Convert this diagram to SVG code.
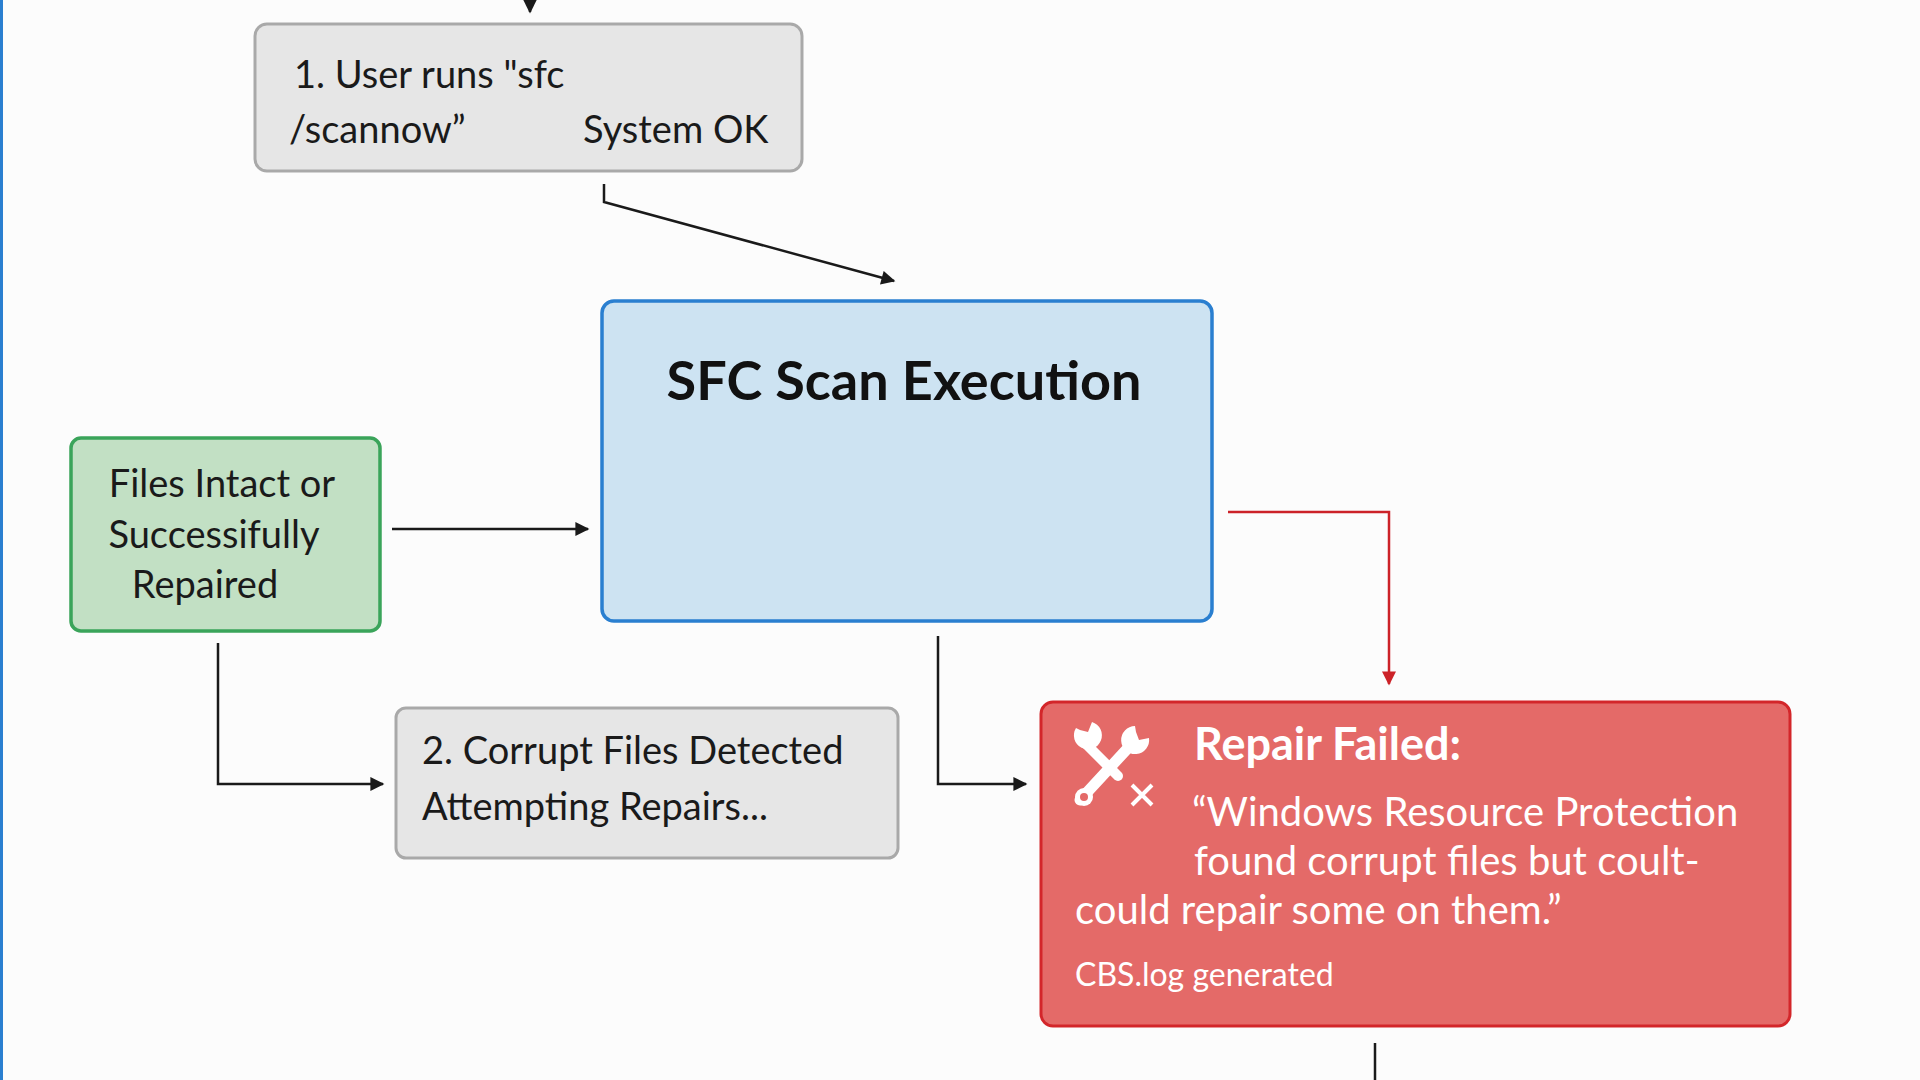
<svg xmlns="http://www.w3.org/2000/svg" width="1920" height="1080" viewBox="0 0 1920 1080">
<defs>
<marker id="ah" viewBox="0 0 10 10" refX="9" refY="5" markerWidth="16" markerHeight="14" orient="auto" markerUnits="userSpaceOnUse"><path d="M0,0 L10,5 L0,10 z" fill="#1a1a1a"/></marker>
<marker id="ahr" viewBox="0 0 10 10" refX="9" refY="5" markerWidth="16" markerHeight="14" orient="auto" markerUnits="userSpaceOnUse"><path d="M0,0 L10,5 L0,10 z" fill="#cc2228"/></marker>
</defs>
<style>
text{font-family:Lato,"Open Sans",sans-serif}
.t{font-size:38px;fill:#1a1a1a}
.w{fill:#fff}
.c{fill:none;stroke:#1a1a1a;stroke-width:2.5}
</style>
<rect width="1920" height="1080" fill="#fcfcfc"/>
<rect x="0" y="0" width="3" height="1080" fill="#2a7fd0"/>
<g id="connectors">
<path class="c" d="M530,0 V12" marker-end="url(#ah)"/>
<path class="c" d="M604,184 V202 L894,281" marker-end="url(#ah)"/>
<path class="c" d="M392,529 H588" marker-end="url(#ah)"/>
<path class="c" d="M218,643 V784 H383" marker-end="url(#ah)"/>
<path class="c" d="M938,636 V784 H1026" marker-end="url(#ah)"/>
<path fill="none" stroke="#cc2228" stroke-width="2.5" d="M1228,512 H1389 V684" marker-end="url(#ahr)"/>
<path class="c" d="M1375,1043 V1080"/>
</g>
<g id="n1">
<rect x="255" y="24" width="547" height="147" rx="12" fill="#e6e6e6" stroke="#a9a9a9" stroke-width="3"/>
<text class="t" x="294" y="88">1. User runs "sfc</text>
<text class="t" x="289" y="143">/scannow”</text>
<text class="t" x="583" y="143">System OK</text>
</g>
<g id="scan">
<rect x="602" y="301" width="610" height="320" rx="12" fill="#cde3f2" stroke="#2a7fd0" stroke-width="3.5"/>
<text x="904" y="400" text-anchor="middle" font-size="54" font-weight="bold" fill="#111">SFC Scan Execution</text>
</g>
<g id="ok">
<rect x="71" y="438" width="309" height="193" rx="10" fill="#c2e0c4" stroke="#3aa45a" stroke-width="3.5"/>
<text class="t" x="222" y="497" text-anchor="middle">Files Intact or</text>
<text class="t" x="214" y="548" text-anchor="middle">Successifully</text>
<text class="t" x="205" y="598" text-anchor="middle">Repaired</text>
</g>
<g id="n2">
<rect x="396" y="708" width="502" height="150" rx="10" fill="#e6e6e6" stroke="#a9a9a9" stroke-width="3"/>
<text class="t" x="422" y="764">2. Corrupt Files Detected</text>
<text class="t" x="422" y="820">Attempting Repairs...</text>
</g>
<g id="fail">
<rect x="1041" y="702" width="749" height="324" rx="12" fill="#e46a68" stroke="#d3262a" stroke-width="3"/>
<g fill="#fff" stroke="#fff">
<path d="M1080,800 L1128,748" stroke-width="11" stroke-linecap="round"/>
<circle cx="1084" cy="797" r="9" stroke="none"/>
<circle cx="1084" cy="797" r="4" fill="#e46a68" stroke="none"/>
<path d="M1082,740 L1118,776" stroke-width="10" stroke-linecap="round"/>
<path d="M1076,728 a14,14 0 1 0 16,-6 l-4,10 l-8,-2 z" stroke="none"/>
<path d="M1135,726 a14,14 0 1 0 14,12 l-10,2 l-3,-8 z" stroke="none"/>
<path d="M1132,785 L1152,805 M1152,785 L1132,805" stroke-width="4" fill="none"/>
</g>
<text class="w" x="1194" y="760" font-size="45" font-weight="bold">Repair Failed:</text>
<text class="w" x="1192" y="826" font-size="40">“Windows Resource Protection</text>
<text class="w" x="1194" y="875" font-size="40">found corrupt files but coult-</text>
<text class="w" x="1075" y="924" font-size="40">could repair some on them.”</text>
<text class="w" x="1075" y="986" font-size="32">CBS.log generated</text>
</g>
</svg>
